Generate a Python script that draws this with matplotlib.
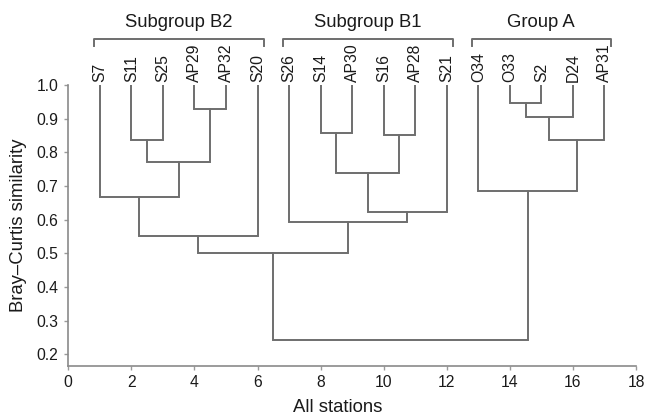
import matplotlib.pyplot as plt

plt.rcParams['font.family'] = ['Liberation Sans', 'DejaVu Sans']

# leaves in plotting order (x = 1..17)
leaves = ["S7", "S11", "S25", "AP29", "AP32", "S20",
          "S26", "S14", "AP30", "S16", "AP28", "S21",
          "O34", "O33", "S2", "D24", "AP31"]

# merges: left node, right node, similarity (new nodes numbered from 17 on)
merge_left = [3, 1, 18, 0, 20, 7, 9, 22, 24, 6, 21, 13, 28, 29, 12, 27]
merge_right = [4, 2, 17, 19, 5, 8, 10, 23, 11, 25, 26, 14, 15, 16, 30, 31]
merge_sim = [0.93, 0.837, 0.771, 0.667, 0.551, 0.857, 0.851, 0.739,
             0.623, 0.593, 0.50, 0.947, 0.905, 0.837, 0.685, 0.242]

# groups: name, first leaf, last leaf (1-based)
group_names = ["Subgroup B2", "Subgroup B1", "Group A"]
group_first = [1, 7, 13]
group_last = [6, 12, 17]

line_col = "#6e6e6e"
text_col = "#1a1a1a"

fig = plt.figure(figsize=(6.46, 4.16), dpi=100)
ax = fig.add_axes([0.1057, 0.121, 0.8788, 0.6747])

node_x = [i + 1 for i in range(len(leaves))]
node_y = [1.0] * len(leaves)

for l, r, h in zip(merge_left, merge_right, merge_sim):
    xl, yl = node_x[l], node_y[l]
    xr, yr = node_x[r], node_y[r]
    ax.plot([xl, xl, xr, xr], [yl, h, h, yr], color=line_col, lw=1.4,
            solid_joinstyle='miter')
    node_x.append((xl + xr) / 2)
    node_y.append(h)

for i, name in enumerate(leaves):
    ax.text(i + 1, 1.008, name, rotation=90, ha='center', va='bottom',
            fontsize=11.3, color=text_col, clip_on=False)

for name, a, b in zip(group_names, group_first, group_last):
    x0, x1 = a - 0.2, b + 0.2
    ax.plot([x0, x0, x1, x1], [1.115, 1.136, 1.136, 1.115], color=line_col,
            lw=1.4, clip_on=False)
    ax.text((x0 + x1) / 2, 1.160, name, ha='center', va='bottom',
            fontsize=13.3, color=text_col, clip_on=False)

ax.set_xlim(0, 18)
ax.set_ylim(0.166, 1.0)
ax.set_xticks(range(0, 19, 2))
ax.set_yticks([0.2, 0.3, 0.4, 0.5, 0.6, 0.7, 0.8, 0.9, 1.0])
ax.set_yticklabels([f"{v:.1f}" for v in ax.get_yticks()])

for side in ['top', 'right']:
    ax.spines[side].set_visible(False)
for side in ['left', 'bottom']:
    ax.spines[side].set_color("#8a8a8a")
    ax.spines[side].set_linewidth(1.2)

ax.tick_params(direction='out', length=3, width=1, color="#9a9a9a",
               labelsize=11.3, labelcolor=text_col, pad=4)

ax.set_xlabel("All stations", fontsize=13.3, color=text_col)
ax.xaxis.set_label_coords(0.475, -0.117)
ax.set_ylabel("Bray\u2013Curtis similarity", fontsize=13.3, color=text_col,
              labelpad=7)

fig.savefig("out.png", dpi=100)
